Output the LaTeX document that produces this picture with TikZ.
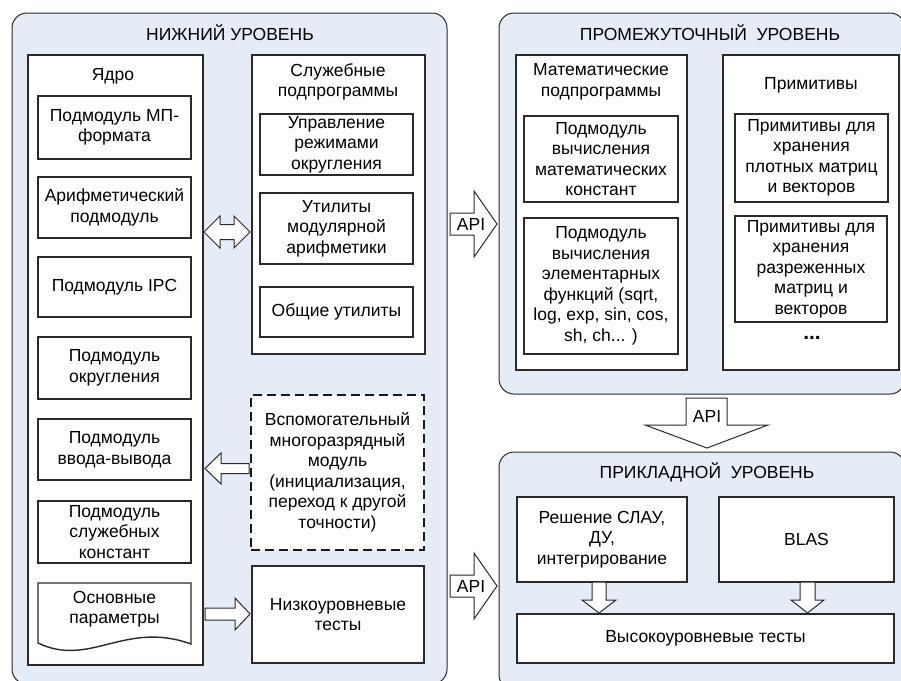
\documentclass[tikz,border=0pt]{standalone}
\usepackage{fontspec}
\setmainfont{Liberation Sans}
\definecolor{panelfill}{HTML}{E6ECF6}
\definecolor{ln}{HTML}{2A2A2A}
\tikzset{
  panel/.style={draw=ln, line width=1pt, fill=panelfill, rounded corners=15pt},
  cont/.style={draw=ln, line width=1.4pt, fill=white, inner sep=0pt},
  box/.style={draw=ln, line width=1.4pt, fill=white, align=center, inner sep=0pt},
  dbox/.style={box, draw=black!90, line width=2.3pt, dash pattern=on 9pt off 5pt},
  lbl/.style={align=center, inner sep=0pt},
  barrow/.style={draw=ln, line width=1pt, fill=white, line join=miter},
}
\newcommand\bx[7][box]{%
  \pgfmathsetmacro\bxw{#5-#3}\pgfmathsetmacro\bxh{#6-#4}%
  \pgfmathsetmacro\bxx{(#3+#5)/2}\pgfmathsetmacro\bxy{(#4+#6)/2}%
  \node[#1, minimum width=\bxw pt, minimum height=\bxh pt] (#2) at (\bxx,\bxy) {#7};}
\begin{document}
\begin{tikzpicture}[x=1pt,y=-1pt, font=\fontsize{17.5}{20.5}\selectfont]
\useasboundingbox (0,0) rectangle (901,680);
\clip (0,0) rectangle (901,680);
\fill[white] (0,0) rectangle (901,680);

% panels
\draw[panel] (12,13) rectangle (447,684);
\draw[panel] (499,13) rectangle (905,394);
\draw[panel] (499,452) rectangle (905,690);

% ---- lower level
\node[lbl] (tlow) at (230,33) {НИЖНИЙ УРОВЕНЬ};
\bx[cont]{core}{28}{55}{203}{665}{}
\node[lbl] (tcore) at (113,76) {Ядро};
\bx{c1}{38}{96}{191}{159}{Подмодуль МП-\\формата}
\bx{c2}{38}{177}{191}{238}{Арифметический\\подмодуль}
\bx{c3}{38}{257}{191}{317}{Подмодуль IPC}
\bx{c4}{38}{337}{191}{399}{Подмодуль\\округления}
\bx{c5}{38}{419}{191}{480}{Подмодуль\\ввода-вывода}
\bx{c6}{38}{501}{191}{563}{Подмодуль\\служебных\\констант}
\draw[draw=ln, line width=1.4pt, fill=white]
  (38,583) -- (191,583) -- (191,644)
  .. controls (125,620) and (90,668) .. (38,643) -- cycle;
\node[lbl] (c7) at (114.5,609) {Основные\\параметры};

\bx[cont]{serv}{252}{55}{425}{354}{}
\node[lbl] (tserv) at (338,82) {Служебные\\подпрограммы};
\bx{s1}{260}{114}{413}{175}{Управление\\режимами\\округления}
\bx{s2}{260}{193}{413}{264}{Утилиты\\модулярной\\арифметики}
\bx{s3}{260}{287}{413}{337}{Общие утилиты}

\bx[dbox]{aux}{251}{395}{424}{550}{Вспомогательный\\многоразрядный\\модуль\\(инициализация,\\переход к другой\\точности)}
\bx{lowt}{252}{566}{424}{663}{Низкоуровневые\\тесты}

% block arrows in lower level
\draw[barrow] (204,232) -- (220,216) -- (220,224.5) -- (234,224.5) -- (234,216) -- (250,232)
  -- (234,248) -- (234,239.5) -- (220,239.5) -- (220,248) -- cycle;
\draw[barrow] (205,468.5) -- (221,453) -- (221,463.5) -- (249,463.5) -- (249,473.5)
  -- (221,473.5) -- (221,484) -- cycle;
\draw[barrow] (205,608) -- (235,608) -- (235,598) -- (250,614) -- (235,630) -- (235,620)
  -- (205,620) -- cycle;

% ---- intermediate level
\node[lbl] (tmid) at (710,33) {ПРОМЕЖУТОЧНЫЙ\ \ УРОВЕНЬ};
\bx[cont]{math}{516}{55}{687}{370}{}
\node[lbl] (tmath) at (601,82) {Математические\\подпрограммы};
\bx{m1}{524}{116}{678}{202}{Подмодуль\\вычисления\\математических\\констант}
\bx{m2}{524}{218}{678}{354}{Подмодуль\\вычисления\\элементарных\\функций (sqrt,\\log, exp, sin, cos,\\sh, ch... )}
\bx[cont]{prim}{723}{55}{899}{370}{}
\node[lbl] (tprim) at (811,85) {Примитивы};
\bx{p1}{735}{114}{888}{202}{Примитивы для\\хранения\\плотных матриц\\и векторов}
\bx{p2}{735}{216}{887}{322}{Примитивы для\\хранения\\разреженных\\матриц и\\векторов}
\node[lbl, font=\fontsize{21}{24}\selectfont\bfseries] (pdots) at (812,338) {...};

% API arrows
\draw[barrow] (450,213) -- (474,213) -- (474,191) -- (497,224) -- (474,257) -- (474,235)
  -- (450,235) -- cycle;
\node[lbl] (api1) at (471,224) {API};
\draw[barrow] (450,575) -- (474,575) -- (474,553) -- (497,586) -- (474,619) -- (474,597)
  -- (450,597) -- cycle;
\node[lbl] (api2) at (471,586) {API};
\draw[barrow] (686,398) -- (727,398) -- (727,425) -- (768,425) -- (707,448) -- (645,425)
  -- (686,425) -- cycle;
\node[lbl] (api3) at (707,416) {API};

% ---- applied level
\node[lbl] (tapp) at (707,472) {ПРИКЛАДНОЙ\ \ УРОВЕНЬ};
\bx{a1}{517}{497}{687}{582}{Решение СЛАУ,\\ДУ,\\интегрирование}
\bx{a2}{719}{497}{894}{582}{BLAS}
\bx{hight}{517}{614}{894}{663}{Высокоуровневые тесты}
\draw[barrow] (592,582) -- (606,582) -- (606,600) -- (616,600) -- (599,613) -- (582,600)
  -- (592,600) -- cycle;
\draw[barrow] (800,582) -- (815,582) -- (815,600) -- (824,600) -- (807.5,613) -- (791,600)
  -- (800,600) -- cycle;
\end{tikzpicture}
\end{document}
